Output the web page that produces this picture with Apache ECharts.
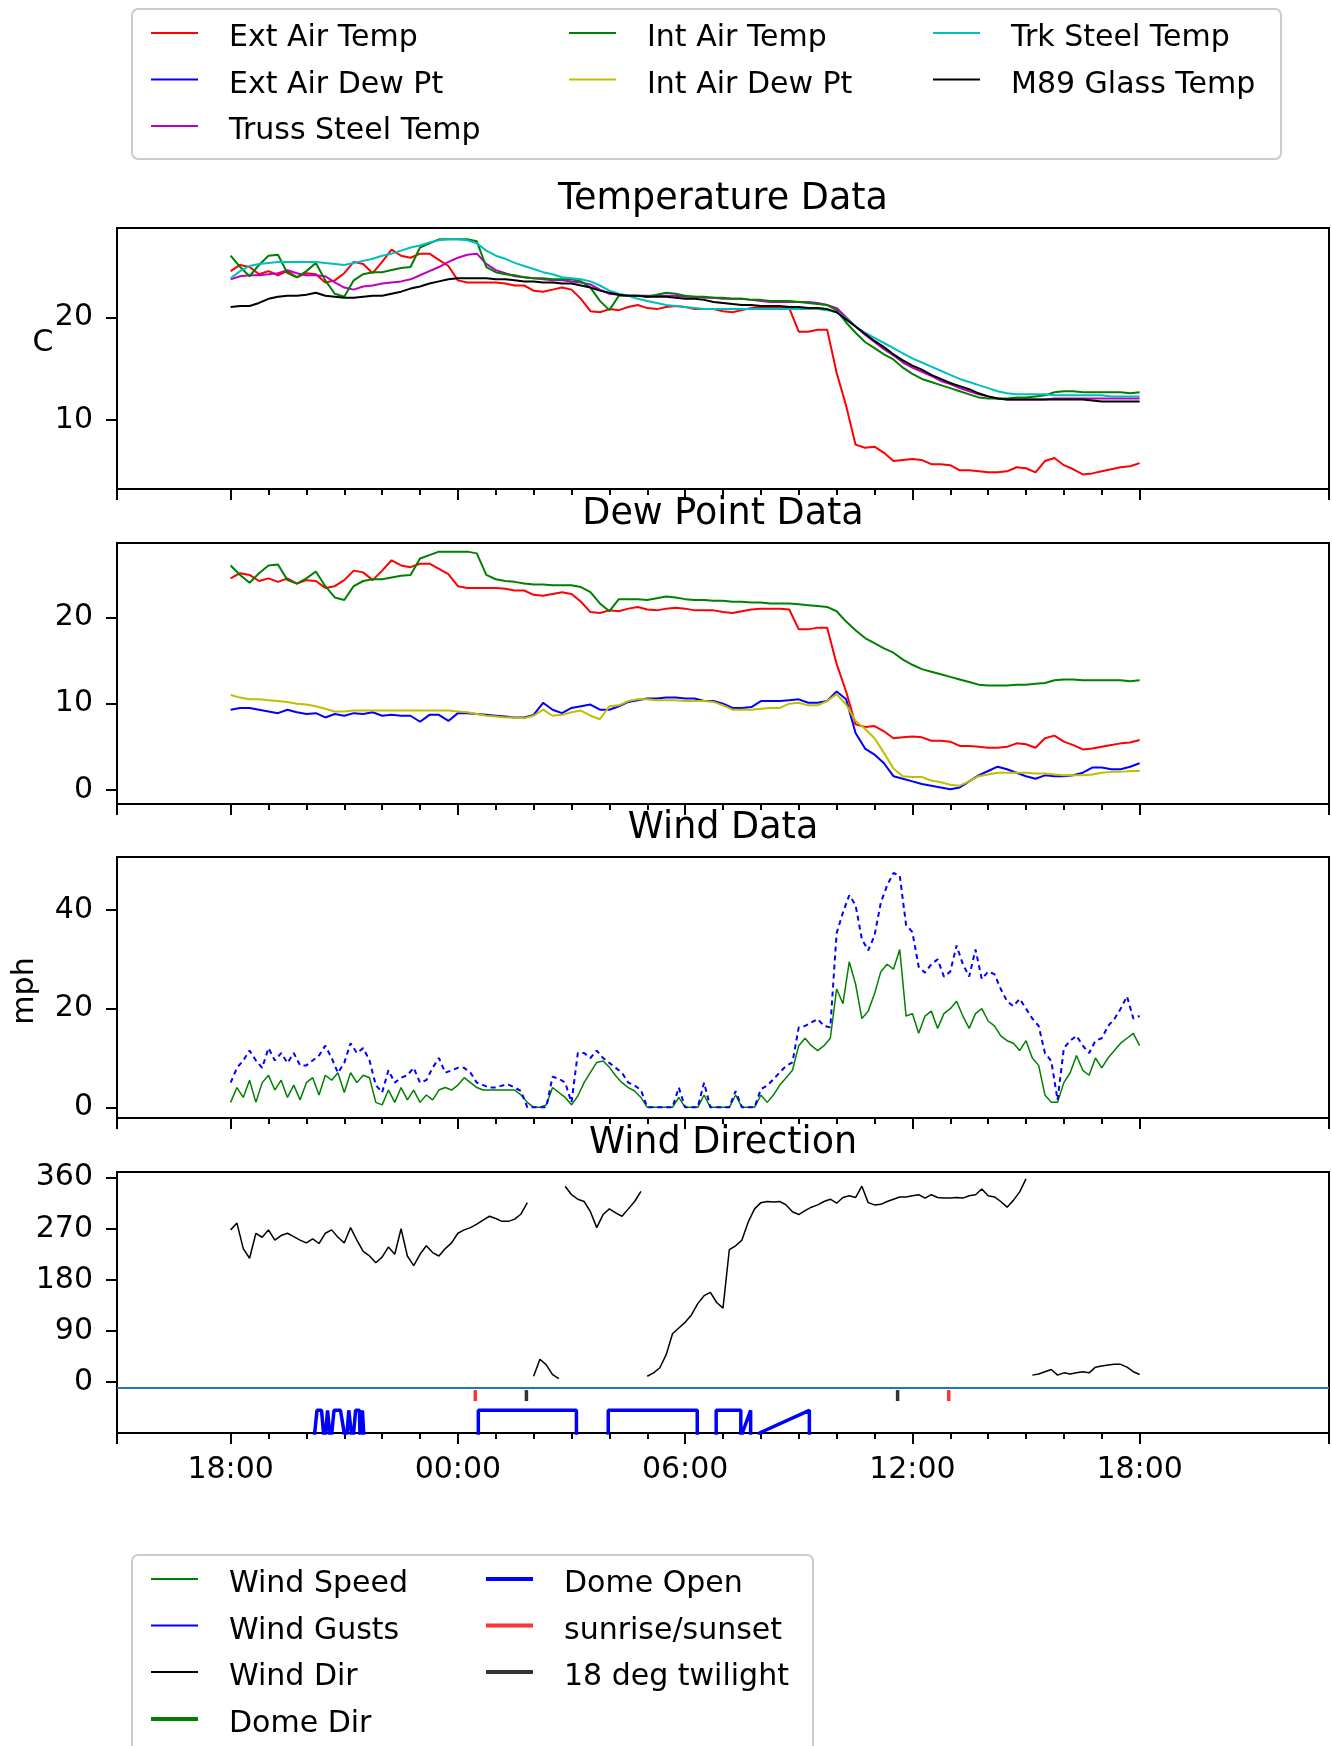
<!DOCTYPE html>
<html>
<head>
<meta charset="utf-8">
<title>Dome weather</title>
<script src="https://cdn.jsdelivr.net/npm/echarts@6/dist/echarts.min.js"></script>
<style>
  html, body { margin: 0; padding: 0; background: #fff; }
  #chart { width: 1332px; height: 1746px; }
</style>
</head>
<body>
<div id="chart"></div>
<script>
/* ---------- time grids (hours from 00:00 of the second day) ---------- */
const tempTimes = Array.from({ length: 97 }, (_, i) => -6 + i * 0.25);   // 15 min
const windTimes = Array.from({ length: 145 }, (_, i) => -6 + i / 6);     // 10 min

/* ---------- temperatures (C) ---------- */
const extAirTemp = [
  24.5, 25.1, 24.9, 24.2, 24.5, 24.1, 24.5, 23.9, 24.3, 24.2, 23.4, 23.6,
  24.3, 25.4, 25.2, 24.3, 25.4, 26.6, 26.0, 25.8, 26.2, 26.2, 25.6, 25.0,
  23.6, 23.4, 23.4, 23.4, 23.4, 23.3, 23.1, 23.1, 22.6, 22.5, 22.7, 22.9,
  22.7, 21.8, 20.6, 20.5, 20.8, 20.7, 21.0, 21.2, 20.9, 20.8, 21.0, 21.1,
  21.0, 20.8, 20.8, 20.8, 20.6, 20.5, 20.7, 20.9, 21.0, 21.0, 21.0, 20.9,
  18.6, 18.6, 18.8, 18.8, 14.6, 11.4, 7.6, 7.3, 7.4, 6.8, 6.0, 6.1,
  6.2, 6.1, 5.7, 5.7, 5.6, 5.1, 5.1, 5.0, 4.9, 4.9, 5.0, 5.4,
  5.3, 4.9, 6.0, 6.3, 5.6, 5.2, 4.7, 4.8, 5.0, 5.2, 5.4, 5.5,
  5.8
];
const intAirTemp = [
  26.0, 24.9, 24.0, 25.1, 26.0, 26.1, 24.3, 23.9, 24.5, 25.3, 23.6, 22.3,
  22.0, 23.6, 24.2, 24.4, 24.4, 24.6, 24.8, 24.9, 26.8, 27.2, 27.6, 27.6,
  27.6, 27.6, 27.4, 24.9, 24.4, 24.2, 24.1, 23.9, 23.8, 23.8, 23.7, 23.7,
  23.7, 23.5, 22.9, 21.6, 20.7, 22.1, 22.1, 22.1, 22.0, 22.2, 22.4, 22.3,
  22.1, 22.0, 22.0, 21.9, 21.9, 21.8, 21.8, 21.7, 21.7, 21.6, 21.6, 21.6,
  21.5, 21.4, 21.3, 21.2, 20.7, 19.5, 18.5, 17.6, 17.0, 16.4, 15.9, 15.1,
  14.5, 14.0, 13.7, 13.4, 13.1, 12.8, 12.5, 12.2, 12.1, 12.1, 12.1, 12.2,
  12.2, 12.3, 12.4, 12.7, 12.8, 12.8, 12.7, 12.7, 12.7, 12.7, 12.7, 12.6,
  12.7
];
const trkSteelTemp = [
  23.8, 24.5, 25.0, 25.2, 25.3, 25.4, 25.4, 25.4, 25.4, 25.4, 25.3, 25.2,
  25.1, 25.3, 25.5, 25.7, 26.0, 26.2, 26.5, 26.8, 27.0, 27.3, 27.5, 27.6,
  27.6, 27.5, 27.2, 26.5, 26.0, 25.7, 25.3, 25.0, 24.7, 24.4, 24.2, 23.9,
  23.8, 23.7, 23.5, 23.1, 22.6, 22.3, 22.1, 21.8, 21.6, 21.4, 21.2, 21.1,
  21.0, 20.9, 20.8, 20.8, 20.8, 20.8, 20.8, 20.8, 20.8, 20.8, 20.8, 20.8,
  20.8, 20.8, 20.8, 20.7, 20.5, 19.9, 19.1, 18.5, 18.0, 17.5, 17.0, 16.5,
  16.0, 15.6, 15.2, 14.8, 14.4, 14.0, 13.7, 13.4, 13.1, 12.8, 12.6, 12.5,
  12.5, 12.5, 12.5, 12.4, 12.4, 12.4, 12.4, 12.4, 12.4, 12.3, 12.3, 12.3,
  12.3
];
const trussSteelTemp = [
  23.7, 24.0, 24.1, 24.1, 24.2, 24.3, 24.6, 24.3, 24.1, 24.1, 24.0, 23.4,
  22.9, 22.7, 23.0, 23.1, 23.3, 23.4, 23.5, 23.7, 24.1, 24.5, 24.9, 25.4,
  25.8, 26.1, 26.2, 25.2, 24.6, 24.3, 24.0, 23.9, 23.8, 23.7, 23.6, 23.6,
  23.5, 23.4, 23.2, 22.7, 22.3, 22.2, 22.1, 22.1, 22.1, 22.1, 22.1, 22.1,
  22.0, 22.0, 21.9, 21.9, 21.8, 21.8, 21.8, 21.7, 21.6, 21.5, 21.5, 21.5,
  21.5, 21.5, 21.4, 21.2, 20.9, 20.0, 19.1, 18.3, 17.6, 16.9, 16.3, 15.6,
  15.1, 14.7, 14.3, 13.8, 13.5, 13.1, 12.8, 12.5, 12.3, 12.1, 12.0, 12.0,
  12.0, 12.0, 12.0, 12.1, 12.1, 12.1, 12.1, 12.1, 12.1, 12.1, 12.1, 12.1,
  12.1
];
const m89GlassTemp = [
  21.0, 21.1, 21.1, 21.4, 21.8, 22.0, 22.1, 22.1, 22.2, 22.4, 22.1, 22.0,
  21.9, 21.9, 22.0, 22.1, 22.1, 22.3, 22.5, 22.8, 23.0, 23.3, 23.5, 23.7,
  23.8, 23.8, 23.8, 23.8, 23.7, 23.7, 23.6, 23.5, 23.5, 23.4, 23.4, 23.3,
  23.3, 23.1, 22.9, 22.6, 22.4, 22.2, 22.1, 22.1, 22.0, 22.0, 22.0, 21.9,
  21.8, 21.8, 21.7, 21.5, 21.4, 21.3, 21.2, 21.2, 21.1, 21.1, 21.1, 21.0,
  21.0, 20.9, 20.9, 20.8, 20.5, 19.8, 19.1, 18.4, 17.7, 17.1, 16.4, 15.8,
  15.3, 14.9, 14.4, 14.0, 13.6, 13.3, 13.0, 12.6, 12.3, 12.1, 12.0, 12.0,
  12.0, 12.0, 12.0, 12.0, 12.0, 12.0, 12.0, 11.9, 11.8, 11.8, 11.8, 11.8,
  11.8
];

/* ---------- dew points (C) ---------- */
const extAirDewPt = [
  9.3, 9.5, 9.5, 9.3, 9.1, 8.9, 9.3, 9.0, 8.8, 8.9, 8.4, 8.8,
  8.6, 8.9, 8.8, 9.0, 8.6, 8.7, 8.6, 8.6, 7.9, 8.7, 8.7, 8.0,
  8.9, 8.9, 8.8, 8.7, 8.6, 8.5, 8.4, 8.4, 8.7, 10.1, 9.3, 8.9,
  9.5, 9.7, 9.9, 9.3, 9.3, 9.7, 10.2, 10.4, 10.6, 10.6, 10.7, 10.7,
  10.6, 10.6, 10.3, 10.3, 10.0, 9.5, 9.5, 9.6, 10.3, 10.3, 10.3, 10.4,
  10.5, 10.1, 10.1, 10.3, 11.4, 10.5, 6.6, 4.8, 4.1, 3.1, 1.6, 1.3,
  1.0, 0.7, 0.5, 0.3, 0.1, 0.3, 1.0, 1.7, 2.2, 2.7, 2.4, 2.0,
  1.6, 1.3, 1.7, 1.6, 1.6, 1.7, 2.0, 2.6, 2.6, 2.4, 2.4, 2.7,
  3.1
];
const intAirDewPt = [
  11.0, 10.7, 10.5, 10.5, 10.4, 10.3, 10.2, 10.0, 9.9, 9.7, 9.4, 9.1,
  9.1, 9.2, 9.2, 9.2, 9.2, 9.2, 9.2, 9.2, 9.2, 9.2, 9.2, 9.2,
  9.1, 9.0, 8.8, 8.6, 8.5, 8.4, 8.4, 8.3, 8.6, 9.3, 8.6, 8.7,
  9.0, 9.2, 8.6, 8.2, 9.7, 9.8, 10.3, 10.5, 10.5, 10.4, 10.4, 10.4,
  10.3, 10.3, 10.3, 10.2, 9.8, 9.3, 9.3, 9.3, 9.4, 9.5, 9.5, 10.0,
  10.1, 9.8, 9.8, 10.3, 11.1, 9.9, 8.0, 7.1, 6.0, 4.3, 2.5, 1.6,
  1.5, 1.5, 1.1, 0.9, 0.6, 0.5, 1.0, 1.6, 1.8, 2.0, 2.0, 2.0,
  2.0, 1.9, 1.9, 1.8, 1.7, 1.7, 1.7, 1.8, 2.0, 2.1, 2.1, 2.2,
  2.2
];

/* ---------- wind (mph) ---------- */
const windSpeed = [
  1.0, 4.0, 2.0, 5.5, 1.0, 5.0,
  6.5, 3.5, 5.5, 2.0, 4.5, 1.5,
  5.0, 6.0, 2.5, 6.5, 5.5, 7.0,
  3.0, 7.0, 5.0, 6.5, 6.0, 1.0,
  0.5, 3.5, 1.0, 4.0, 1.5, 3.5,
  1.0, 2.5, 1.5, 3.5, 4.0, 3.5,
  4.5, 6.0, 5.0, 4.0, 3.5, 3.5,
  3.5, 3.5, 3.5, 3.5, 2.5, 1.0,
  0, 0, 0.5, 4.0, 3.0, 2.0,
  0.5, 2.3, 5.0, 7.1, 9.1, 9.4,
  8.1, 6.4, 5.0, 4.0, 3.3, 2.0,
  0, 0, 0, 0, 0, 2.0,
  0, 0, 0, 2.5, 0, 0,
  0, 0, 2.5, 0, 0, 0,
  2.5, 1.0, 2.5, 4.5, 6.0, 7.5,
  12.5, 14.0, 12.5, 11.5, 12.5, 14.0,
  24.0, 21.0, 29.5, 25.0, 18.0, 19.5,
  23.0, 27.5, 29.0, 28.0, 32.0, 18.5,
  19.0, 15.0, 18.5, 19.5, 16.0, 19.0,
  20.0, 21.5, 18.5, 16.0, 19.0, 20.0,
  17.5, 16.5, 14.5, 13.5, 13.0, 11.5,
  13.5, 10.0, 8.5, 2.5, 1.0, 1.0,
  5.0, 7.0, 10.5, 7.5, 6.5, 10.0,
  8.0, 10.0, 11.5, 13.0, 14.0, 15.0,
  12.5
];
const windGusts = [
  5.0, 8.0, 9.5, 11.5, 9.5, 8.0,
  12.0, 9.5, 11.0, 9.0, 11.0, 8.5,
  8.5, 9.5, 10.5, 12.5, 10.0, 7.0,
  9.0, 13.0, 11.0, 12.0, 9.5, 4.5,
  3.0, 7.5, 5.0, 6.0, 6.5, 8.0,
  5.0, 5.5, 8.0, 10.0, 7.0, 7.5,
  8.0, 8.0, 7.0, 5.0, 4.5, 4.0,
  4.0, 4.4, 4.6, 4.0, 3.3, 0,
  0, 0, 0, 6.2, 5.8, 5.0,
  1.0, 11.0, 11.0, 10.0, 11.5, 10.0,
  9.0, 8.0, 7.0, 5.0, 4.4, 3.5,
  0, 0, 0, 0, 0, 4.0,
  0, 0, 0, 5.0, 0, 0,
  0, 0, 3.3, 0, 0, 0,
  3.7, 4.4, 5.7, 7.1, 8.4, 9.1,
  16.2, 16.5, 17.2, 17.9, 16.5, 16.2,
  35.3, 39.5, 43.0, 41.0, 34.1, 31.8,
  34.8, 41.5, 45.0, 47.5, 47.0, 37.0,
  35.5, 28.5, 27.3, 29.0, 30.0, 26.5,
  27.5, 32.8, 29.0, 26.5, 32.0, 26.0,
  27.5, 27.0, 24.0, 21.5, 20.5, 22.0,
  20.0, 18.0, 16.5, 11.0, 9.4, 1.5,
  12.0, 13.5, 14.5, 12.5, 11.0, 13.5,
  14.0, 16.5, 17.9, 20.0, 22.5, 18.0,
  18.5
];
const windDir = [
  268, 280, 235, 218, 262, 255,
  268, 250, 258, 262, 256, 250,
  245, 252, 244, 262, 268, 255,
  245, 272, 250, 230, 222, 210,
  220, 238, 225, 270, 222, 205,
  225, 240, 228, 222, 235, 245,
  262, 268, 272, 278, 285, 292,
  288, 283, 283, 287, 296, 316,
  10, 40, 30, 13, 6, 345,
  330, 322, 318, 300, 272, 295,
  305, 298, 292, 305, 318, 336,
  10, 16, 25, 48, 85, 95,
  105, 118, 138, 152, 158, 140,
  130, 233, 240, 250, 282, 305,
  316, 318, 317, 318, 312, 300,
  295, 302, 308, 312, 318, 322,
  315, 325, 328, 325, 345, 316,
  312, 313, 318, 322, 326, 326,
  328, 330, 324, 330, 325, 324,
  324, 325, 324, 328, 330, 340,
  328, 326, 318, 308, 320, 335,
  358, 12, 14, 18, 22, 12,
  16, 14, 16, 18, 16, 26,
  28, 30, 31, 31, 26, 18,
  13
];

/* ---------- dome state / sun events (wind direction panel) ---------- */
const domeTimes = [
  -3.81, -3.72, -3.60, -3.52, -3.44, -3.36, -3.27, -3.10, -2.95, -2.88, -2.78, -2.70,
  -2.60, -2.58, -2.52, -2.47, -2.47,
  0.54, 0.54, 3.13, 3.13,
  3.97, 3.97, 6.32, 6.32,
  6.82, 6.82, 7.47, 7.47, 7.51, 7.73, 7.73,
  7.96, 7.96, 9.28, 9.28
];
const domeLevel = [
  -110, -50, -50, -110, -50, -110, -50, -50, -110, -50, -110, -50,
  -50, -110, -50, -50, -110,
  -110, -50, -50, -110,
  -110, -50, -50, -110,
  -110, -50, -50, -110, -90, -50, -110,
  -110, -90, -50, -110
];
const domeDirTimes = [];
const domeDir = [];
const refLevel = -10;
const sunTimes = [0.46, 12.96];
const twilightTimes = [1.81, 11.61];
const sunMarkLevel = -24;

/* ---------- axes ---------- */
const X_MIN = -9, X_MAX = 23;
const majorTicks = [-9, -6, 0, 6, 12, 18, 23];
const labelTicks = [-6, 0, 6, 12, 18];
const minorTicks = [];
for (let h = -5; h < 18; h++) if (h % 6 !== 0) minorTicks.push(h);

const FONT = 'DejaVu Sans';
const tickLine = { color: '#000', width: 2 };
const hourLabel = (v) => {
  const h = ((Math.round(v) % 24) + 24) % 24;
  return (h < 10 ? '0' : '') + h + ':00';
};

const gridTops = [228, 543, 857, 1172];
const grids = gridTops.map((top) => ({
  left: 117, top, width: 1212, height: 261,
  show: true, borderColor: '#000', borderWidth: 2, backgroundColor: 'transparent',
  containLabel: false, outerBoundsMode: 'none',
}));

const xAxes = [];
gridTops.forEach((_, gi) => {
  xAxes.push({
    type: 'value', gridIndex: gi, position: 'bottom', min: X_MIN, max: X_MAX,
    axisLine: { show: false, onZero: false }, splitLine: { show: false },
    axisTick: { show: true, length: 11, lineStyle: tickLine, customValues: majorTicks },
    axisLabel: {
      show: gi === 3, customValues: labelTicks, formatter: hourLabel, margin: 22,
      fontFamily: FONT, fontSize: 30, color: '#000',
    },
  });
  xAxes.push({
    type: 'value', gridIndex: gi, position: 'bottom', min: X_MIN, max: X_MAX,
    axisLine: { show: false, onZero: false }, splitLine: { show: false },
    axisTick: { show: true, length: 6, lineStyle: tickLine, customValues: minorTicks },
    axisLabel: { show: false },
  });
});

const yDefs = [
  { min: 3.28, max: 28.7, ticks: [10, 20] },
  { min: -1.62, max: 28.6, ticks: [0, 10, 20] },
  { min: -2.17, max: 50.75, ticks: [0, 20, 40] },
  { min: -90, max: 370, ticks: [0, 90, 180, 270, 360] },
];
const yAxes = yDefs.map((d, gi) => ({
  type: 'value', gridIndex: gi, position: 'left', min: d.min, max: d.max,
  axisLine: { show: false, onZero: false }, splitLine: { show: false },
  axisTick: { show: true, length: 11, lineStyle: tickLine, customValues: d.ticks },
  axisLabel: { customValues: d.ticks, margin: 24, fontFamily: FONT, fontSize: 30, color: '#000' },
}));

/* ---------- series ---------- */
const pairs = (times, vals) => times.map((t, i) => [t, vals[i]]);
// break the wind-direction trace where it wraps through 0/360
function wrapped(times, vals) {
  const out = [];
  vals.forEach((v, i) => {
    if (i > 0 && Math.abs(v - vals[i - 1]) > 180) out.push([times[i], null]);
    out.push([times[i], v]);
  });
  return out;
}
function line(name, gi, data, color, width, extra) {
  return Object.assign({
    name, type: 'line', xAxisIndex: gi * 2, yAxisIndex: gi, data,
    showSymbol: false, symbol: 'none', color,
    lineStyle: { color, width }, itemStyle: { color },
    animation: false, silent: true,
  }, extra || {});
}

const C = {
  red: '#ff0000', blue: '#0000ff', green: '#008000', cyan: '#00bfbf',
  magenta: '#bf00bf', yellow: '#bfbf00', black: '#000000',
};

const series = [
  // temperature
  line('Ext Air Temp', 0, pairs(tempTimes, extAirTemp), C.red, 2),
  line('Truss Steel Temp', 0, pairs(tempTimes, trussSteelTemp), C.magenta, 2),
  line('Int Air Temp', 0, pairs(tempTimes, intAirTemp), C.green, 2),
  line('Trk Steel Temp', 0, pairs(tempTimes, trkSteelTemp), C.cyan, 2),
  line('M89 Glass Temp', 0, pairs(tempTimes, m89GlassTemp), C.black, 2),
  // dew point
  line('Ext Air Temp', 1, pairs(tempTimes, extAirTemp), C.red, 2),
  line('Ext Air Dew Pt', 1, pairs(tempTimes, extAirDewPt), C.blue, 2),
  line('Int Air Temp', 1, pairs(tempTimes, intAirTemp), C.green, 2),
  line('Int Air Dew Pt', 1, pairs(tempTimes, intAirDewPt), C.yellow, 2),
  // wind
  line('Wind Speed', 2, pairs(windTimes, windSpeed), C.green, 1.5),
  line('Wind Gusts', 2, pairs(windTimes, windGusts), C.blue, 2, {
    lineStyle: { color: C.blue, width: 2, type: [5, 4] },
  }),
  // wind direction
  line('Wind Dir', 3, wrapped(windTimes, windDir), C.black, 1.5),
  line('Dome Dir', 3, pairs(domeDirTimes, domeDir), C.green, 4),
  line('Dome Open', 3, pairs(domeTimes, domeLevel), C.blue, 3.5, {
    markLine: {
      silent: true, symbol: 'none', label: { show: false },
      lineStyle: { color: '#1f77b4', width: 2, type: 'solid' },
      data: [{ yAxis: refLevel }],
    },
  }),
  {
    name: 'sunrise/sunset', type: 'scatter', xAxisIndex: 6, yAxisIndex: 3,
    data: sunTimes.map((t) => [t, sunMarkLevel]), symbol: 'rect', symbolSize: [3.5, 11],
    itemStyle: { color: C.red }, animation: false, silent: true,
  },
  {
    name: '18 deg twilight', type: 'scatter', xAxisIndex: 6, yAxisIndex: 3,
    data: twilightTimes.map((t) => [t, sunMarkLevel]), symbol: 'rect', symbolSize: [3.5, 11],
    itemStyle: { color: C.black }, animation: false, silent: true,
  },
];

/* ---------- legends ---------- */
// line swatch sits a little above the label's middle, as in the original
const thinIcon = 'path://M0,0H47V2H0Z M0,12.9H0.1V13H0Z';
const thickIcon = 'path://M0,0H47V4H0Z M0,14.9H0.1V15H0Z';
function legendCol(names, left, top, thick) {
  return {
    data: names, orient: 'vertical', left, top, padding: 0,
    itemWidth: 47, itemHeight: thick ? 15 : 13, itemGap: 15.5,
    icon: thick ? thickIcon : thinIcon,
    selectedMode: false,
    textStyle: { fontFamily: FONT, fontSize: 30, color: '#000', lineHeight: 31, padding: [0, 0, 0, 26] },
  };
}
const legends = [
  legendCol(['Ext Air Temp', 'Ext Air Dew Pt', 'Truss Steel Temp'], 151, 23, false),
  legendCol(['Int Air Temp', 'Int Air Dew Pt'], 569, 23, false),
  legendCol(['Trk Steel Temp', 'M89 Glass Temp'], 933, 23, false),
  legendCol(['Wind Speed', 'Wind Gusts', 'Wind Dir'], 151, 1569, false),
  legendCol(['Dome Dir'], 151, 1709, true),
  legendCol(['Dome Open', 'sunrise/sunset', '18 deg twilight'], 486, 1569, true),
];

/* ---------- titles, labels, legend frames ---------- */
const titles = ['Temperature Data', 'Dew Point Data', 'Wind Data', 'Wind Direction'];
const frame = { fill: 'rgba(255,255,255,0.8)', stroke: '#cccccc', lineWidth: 2 };
const graphic = [
  { type: 'rect', silent: true, z: 0, shape: { x: 132, y: 9, width: 1149, height: 150, r: 6 }, style: frame },
  { type: 'rect', silent: true, z: 0, shape: { x: 132, y: 1555, width: 681, height: 230, r: 6 }, style: frame },
  ...titles.map((text, i) => ({
    type: 'text', silent: true, x: 723, y: gridTops[i] - 28,
    style: { text, fontFamily: FONT, fontSize: 36.5, fill: '#000', align: 'center', verticalAlign: 'middle' },
  })),
  {
    type: 'text', silent: true, x: 43, y: 343,
    style: { text: 'C', fontFamily: FONT, fontSize: 30, fill: '#000', align: 'center', verticalAlign: 'middle' },
  },
  {
    type: 'text', silent: true, x: 25, y: 991, rotation: Math.PI / 2,
    style: { text: 'mph', fontFamily: FONT, fontSize: 30, fill: '#000', align: 'center', verticalAlign: 'middle' },
  },
];

const chart = echarts.init(document.getElementById('chart'), null, { renderer: 'canvas' });
chart.setOption({
  backgroundColor: '#ffffff',
  animation: false,
  grid: grids,
  xAxis: xAxes,
  yAxis: yAxes,
  legend: legends,
  graphic,
  series,
});
</script>
</body>
</html>
